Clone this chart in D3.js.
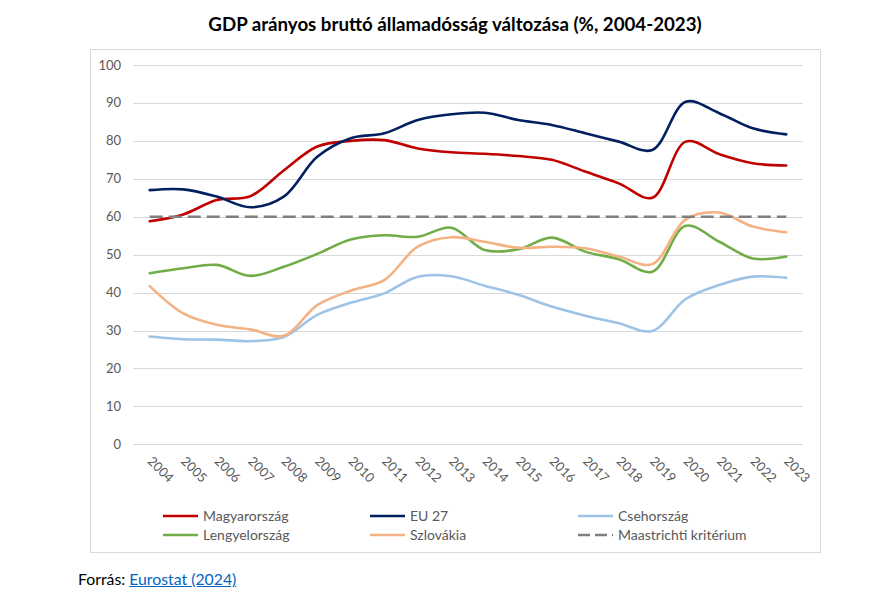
<!DOCTYPE html>
<html>
<head>
<meta charset="utf-8">
<script src="https://cdn.jsdelivr.net/npm/d3@7"></script>
<style>
  body { margin: 0; background: #fff; font-family: Lato, "Open Sans", sans-serif; }
  #chart { position: relative; width: 887px; height: 590px; }
  .source { position: absolute; left: 78px; top: 569px; font-size: 15.8px; color: #000; }
  .source a { color: #0563C1; text-decoration: underline; }
</style>
</head>
<body>
<div id="chart">
  <div class="source">Forrás: <a href="#">Eurostat (2024)</a></div>
</div>
<script>
const years = d3.range(2004, 2024).map(String);

const magyarorszag = [58.8, 60.6, 64.4, 65.4, 72.2, 78.5, 80.0, 80.2, 78.0, 77.0, 76.6, 76.0, 75.0, 71.9, 68.8, 65.0, 79.8, 76.5, 74.1, 73.5];
const eu27 = [67.0, 67.2, 65.3, 62.5, 65.3, 75.8, 80.7, 82.0, 85.5, 87.0, 87.4, 85.5, 84.2, 82.0, 79.8, 77.6, 90.3, 87.3, 83.3, 81.7];
const csehorszag = [28.4, 27.7, 27.6, 27.2, 28.3, 34.1, 37.3, 39.8, 44.2, 44.3, 41.8, 39.4, 36.3, 33.9, 31.9, 29.9, 38.3, 42.0, 44.2, 43.9];
const lengyelorszag = [45.1, 46.4, 47.3, 44.4, 46.8, 50.2, 54.0, 55.1, 54.7, 57.1, 51.2, 51.4, 54.5, 50.8, 48.8, 45.5, 57.6, 53.4, 49.0, 49.5];
const szlovakia = [41.7, 34.5, 31.5, 30.3, 28.6, 36.7, 40.5, 43.3, 52.1, 54.6, 53.4, 51.8, 52.1, 51.7, 49.5, 47.5, 59.3, 61.1, 57.4, 55.9];
const maastricht = years.map(() => 60);

const yTicks = [0, 10, 20, 30, 40, 50, 60, 70, 80, 90, 100];

const series = [
  { name: "Magyarország", values: magyarorszag, color: "#C00000" },
  { name: "EU 27", values: eu27, color: "#002060" },
  { name: "Csehország", values: csehorszag, color: "#9DC3E6" },
  { name: "Lengyelország", values: lengyelorszag, color: "#70AD47" },
  { name: "Szlovákia", values: szlovakia, color: "#F4B183" },
  { name: "Maastrichti kritérium", values: maastricht, color: "#7F7F7F", dash: "13,6" }
];

const svg = d3.select("#chart").append("svg")
  .attr("width", 887)
  .attr("height", 590)
  .style("position", "absolute")
  .style("left", 0)
  .style("top", 0);

// chart frame
svg.append("rect")
  .attr("x", 90.5).attr("y", 49.5)
  .attr("width", 730).attr("height", 503)
  .attr("fill", "none")
  .attr("stroke", "#D9D9D9");

svg.append("text")
  .attr("x", 455).attr("y", 31)
  .attr("text-anchor", "middle")
  .style("font-size", "18.7px")
  .style("font-weight", "bold")
  .attr("fill", "#000")
  .text("GDP arányos bruttó államadósság változása (%, 2004-2023)");

const x = d3.scaleBand().domain(years).range([133, 803]);
const y = d3.scaleLinear().domain([0, 100]).range([444.3, 65]);

// gridlines
svg.append("g")
  .selectAll("line")
  .data(yTicks)
  .join("line")
  .attr("x1", 133).attr("x2", 803)
  .attr("y1", d => Math.round(y(d)) + 0.5)
  .attr("y2", d => Math.round(y(d)) + 0.5)
  .attr("stroke", "#D9D9D9");

svg.append("g")
  .selectAll("text")
  .data(yTicks)
  .join("text")
  .attr("x", 121)
  .attr("y", d => y(d) + 4.5)
  .attr("text-anchor", "end")
  .style("font-size", "13px")
  .attr("fill", "#595959")
  .text(d => d);

svg.append("g")
  .selectAll("text")
  .data(years)
  .join("text")
  .attr("transform", d => `translate(${x(d) + x.bandwidth() / 2 - 3},462) rotate(45)`)
  .style("font-size", "13px")
  .attr("fill", "#595959")
  .text(d => d);

const line = d3.line()
  .x((d, i) => x(years[i]) + x.bandwidth() / 2)
  .y(d => y(d))
  .curve(d3.curveCatmullRom.alpha(0.5));

svg.append("g")
  .selectAll("path")
  .data(series)
  .join("path")
  .attr("d", d => line(d.values))
  .attr("fill", "none")
  .attr("stroke", d => d.color)
  .attr("stroke-width", d => d.dash ? 2.5 : 2.6)
  .attr("stroke-dasharray", d => d.dash || null)
  .attr("stroke-linecap", d => d.dash ? "butt" : "round");

// legend
const legendX = [163, 370, 578];
const legendY = [516, 535];
const legend = svg.append("g")
  .selectAll("g")
  .data(series)
  .join("g")
  .attr("transform", (d, i) => `translate(${legendX[i % 3]},${legendY[Math.floor(i / 3)]})`);

legend.append("line")
  .attr("x1", 0).attr("x2", 35)
  .attr("stroke", d => d.color)
  .attr("stroke-width", 2.6)
  .attr("stroke-dasharray", d => d.dash ? "12,5" : null);

legend.append("text")
  .attr("x", 40).attr("y", 5)
  .style("font-size", "14px")
  .attr("fill", "#595959")
  .text(d => d.name);
</script>
</body>
</html>
